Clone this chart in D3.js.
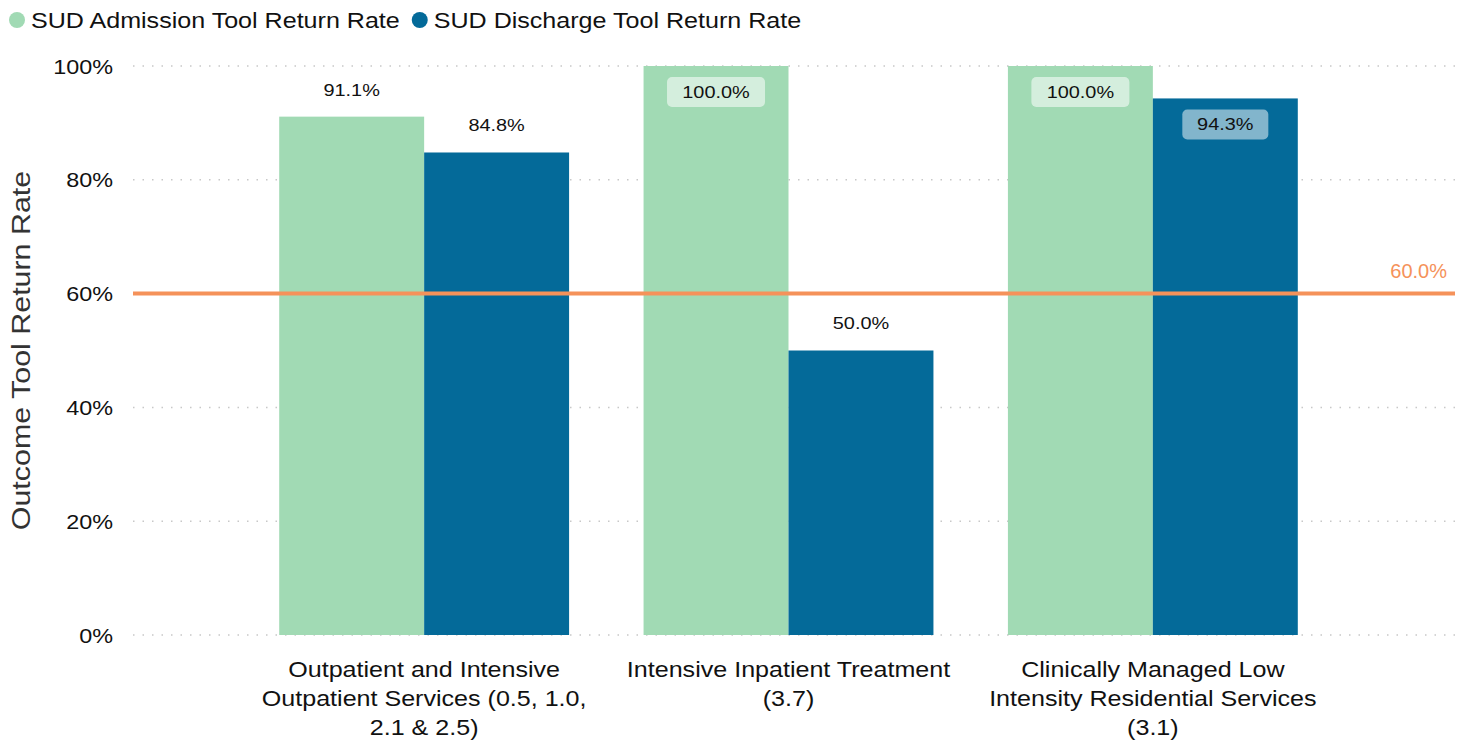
<!DOCTYPE html>
<html>
<head>
<meta charset="utf-8">
<script src="https://cdn.jsdelivr.net/npm/d3@7"></script>
<style>
  html, body { margin: 0; padding: 0; background: #fff; }
  svg { display: block; }
  text { font-family: "Liberation Sans", Arial, sans-serif; }
</style>
</head>
<body>
<svg id="chart" width="1463" height="742"></svg>
<script>
// Level-of-care categories (multi-line labels)
const categories = [
  ["Outpatient and Intensive", "Outpatient Services (0.5, 1.0,", "2.1 & 2.5)"],
  ["Intensive Inpatient Treatment", "(3.7)"],
  ["Clinically Managed Low", "Intensity Residential Services", "(3.1)"]
];
const seriesNames = ["SUD Admission Tool Return Rate", "SUD Discharge Tool Return Rate"];
const seriesColors = ["#a1dab4", "#046a99"];
const admissionRate = [91.1, 100.0, 100.0];
const dischargeRate = [84.8, 50.0, 94.3];
const targetRate = 60.0;
const yTicks = [0, 20, 40, 60, 80, 100];

// Text in this chart is drawn slightly wide
const SX = 1.17;
const SX_LABEL = 1.14;

const svg = d3.select("#chart");
const plot = { left: 133, right: 1455, top: 66, bottom: 635 };

const catKeys = categories.map((c, i) => "c" + i);
const x = d3.scaleBand()
  .domain(catKeys)
  .range([128, 1449])
  .paddingInner(0.2044)
  .paddingOuter(0.415);
const xs = d3.scaleBand().domain([0, 1]).range([0, x.bandwidth()]).padding(0);
const y = d3.scaleLinear().domain([0, 100]).range([plot.bottom, plot.top]);

// Widened text anchored at (px, py)
function wideText(parent, px, py, anchor, size, fill, sx) {
  return parent.append("g")
    .attr("transform", `translate(${px},${py}) scale(${sx || SX},1)`)
    .append("text")
    .attr("text-anchor", anchor)
    .attr("font-size", size)
    .attr("fill", fill);
}

// Dotted gridlines
svg.append("g")
  .selectAll("line")
  .data(yTicks)
  .join("line")
  .attr("x1", plot.left).attr("x2", plot.right)
  .attr("y1", d => y(d)).attr("y2", d => y(d))
  .attr("stroke", "#c8c8c8")
  .attr("stroke-width", 1.5)
  .attr("stroke-dasharray", "1.5 8");

// Y axis labels
const yAxis = d3.axisLeft(y).tickValues(yTicks).tickFormat(d => d + "%").tickSize(0).tickPadding(0);
const yg = svg.append("g").attr("transform", `translate(${plot.left - 20},0)`).call(yAxis);
yg.select(".domain").remove();
yg.selectAll("text")
  .attr("font-size", 20)
  .attr("fill", "#111")
  .attr("font-family", "Liberation Sans, Arial, sans-serif")
  .attr("dy", "0.35em")
  .attr("transform", `scale(${SX},1)`);

// Y axis title
svg.append("g")
  .attr("transform", `translate(30,${(plot.top + plot.bottom) / 2}) rotate(-90) scale(${SX},1)`)
  .append("text")
  .attr("text-anchor", "middle")
  .attr("font-size", 26)
  .attr("fill", "#333")
  .text("Outcome Tool Return Rate");

// Bars
const rows = categories.map((c, i) => ({ key: catKeys[i], values: [admissionRate[i], dischargeRate[i]] }));
const bars = [];
rows.forEach(r => r.values.forEach((v, s) => bars.push({ key: r.key, s, v })));

svg.append("g")
  .selectAll("rect")
  .data(bars)
  .join("rect")
  .attr("x", d => x(d.key) + xs(d.s))
  .attr("width", xs.bandwidth())
  .attr("y", d => y(d.v))
  .attr("height", d => y(0) - y(d.v))
  .attr("fill", d => seriesColors[d.s]);

// Target line
svg.append("line")
  .attr("x1", plot.left).attr("x2", plot.right)
  .attr("y1", y(targetRate)).attr("y2", y(targetRate))
  .attr("stroke", "#f5925a")
  .attr("stroke-width", 4);
svg.append("text")
  .attr("x", 1447).attr("y", y(targetRate) - 16)
  .attr("text-anchor", "end")
  .attr("font-family", "Open Sans, sans-serif")
  .attr("font-size", 20)
  .attr("fill", "#f5925a")
  .text(targetRate.toFixed(1) + "%");

// Value labels: inside (with rounded badge) when the bar is tall enough, otherwise above
const labels = svg.append("g");
bars.forEach(d => {
  const cx = x(d.key) + xs(d.s) + xs.bandwidth() / 2;
  const inside = d.v >= 93;
  const txt = d.v.toFixed(1) + "%";
  const cy = inside ? y(d.v) + 26 : y(d.v) - 27;
  if (inside) {
    const w = txt.length > 5 ? 98 : 86;
    labels.append("rect")
      .attr("x", cx - w / 2).attr("y", cy - 15)
      .attr("width", w).attr("height", 30)
      .attr("rx", 5)
      .attr("fill", "#ffffff")
      .attr("fill-opacity", d.s === 0 ? 0.55 : 0.5);
  }
  wideText(labels, cx, cy, "middle", 17, "#111")
    .attr("dy", "0.35em")
    .text(txt);
});

// Category labels
const catG = svg.append("g");
categories.forEach((lines, i) => {
  const t = wideText(catG, x(catKeys[i]) + x.bandwidth() / 2, 669, "middle", 22, "#111", SX_LABEL);
  lines.forEach((ln, j) => {
    t.append("tspan")
      .attr("x", 0)
      .attr("y", j * 29)
      .attr("dy", "0.35em")
      .text(ln);
  });
});

// Legend
const legend = svg.append("g");
let lx = 9;
seriesNames.forEach((name, i) => {
  legend.append("circle").attr("cx", lx + 8).attr("cy", 20).attr("r", 8).attr("fill", seriesColors[i]);
  const t = wideText(legend, lx + 22, 20, "start", 22, "#111", SX_LABEL)
    .attr("dy", "0.35em")
    .text(name);
  lx += 22 + t.node().getComputedTextLength() * SX_LABEL + 12;
});
</script>
</body>
</html>
